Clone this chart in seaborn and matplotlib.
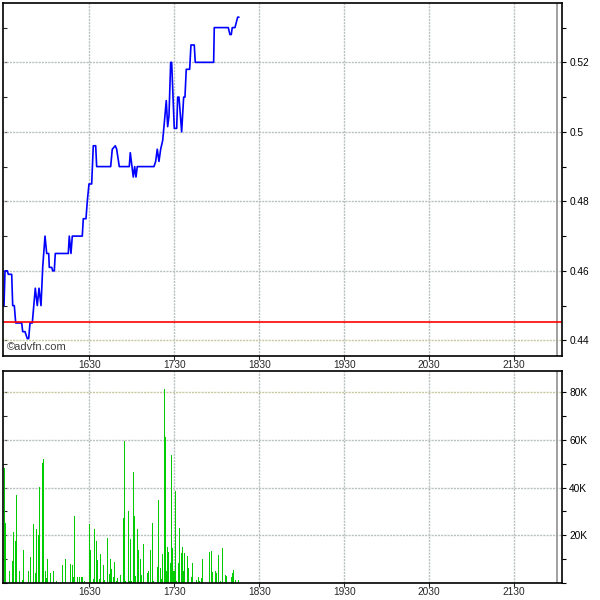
import matplotlib
matplotlib.use("Agg")
import matplotlib.pyplot as plt
import seaborn as sns
import pandas as pd
from matplotlib.ticker import MultipleLocator, FixedLocator, FuncFormatter

# ---- data (minutes after 15:30) ----
price_time = [-0.92, -0.21, 0.50, 2.12, 2.82, 5.22, 5.93, 7.06, 8.05, 12.28, 12.99, 14.61,
              16.24, 17.22, 18.14, 19.76, 21.88, 23.29, 24.49, 25.91, 27.11, 28.73, 29.93,
              31.34, 31.77, 33.46, 34.16, 35.29, 36.00, 45.18, 45.88, 47.08, 48.00, 55.06,
              55.77, 57.67, 58.59, 59.79, 61.69, 62.82, 64.52, 65.22, 75.10, 76.23, 78.35,
              79.34, 81.18, 88.24, 88.94, 91.06, 92.05, 92.97, 93.88, 105.67, 106.87, 108.00,
              109.20, 110.40, 111.81, 112.73, 114.36, 115.34, 116.26, 117.46, 118.17, 120.00,
              121.70, 122.40, 123.32, 125.22, 126.63, 127.55, 128.47, 130.87, 131.79, 134.12,
              134.82, 147.81, 148.24, 158.13, 159.32, 160.24, 160.94, 162.85, 164.76, 165.68]
price_value = [0.450, 0.450, 0.460, 0.460, 0.459, 0.459, 0.450, 0.450, 0.445, 0.445, 0.4425, 0.4425,
               0.4405, 0.4405, 0.445, 0.445, 0.455, 0.450, 0.455, 0.450, 0.461, 0.470, 0.465,
               0.465, 0.461, 0.461, 0.460, 0.460, 0.465, 0.465, 0.470, 0.465, 0.470, 0.470,
               0.475, 0.475, 0.480, 0.485, 0.485, 0.496, 0.496, 0.490, 0.490, 0.495, 0.496,
               0.495, 0.490, 0.490, 0.494, 0.487, 0.490, 0.487, 0.490, 0.490, 0.4915, 0.495,
               0.4915, 0.495, 0.4975, 0.5015, 0.509, 0.5015, 0.5045, 0.520, 0.520, 0.501,
               0.501, 0.510, 0.510, 0.500, 0.510, 0.510, 0.518, 0.518, 0.525, 0.525,
               0.520, 0.520, 0.530, 0.530, 0.528, 0.528, 0.530, 0.530, 0.533, 0.533]
prev_close = 0.4452

vol_time = [-0.21, 0.50, 1.20, 3.32, 5.67, 6.38, 7.79, 8.49, 10.61, 12.73, 13.43, 16.96,
            18.37, 20.49, 21.90, 22.61, 24.02, 24.73, 26.84, 27.55, 28.96, 29.67, 30.37,
            32.49, 34.61, 36.73, 40.96, 43.08, 46.61, 48.02, 48.73, 49.43, 51.55, 52.96,
            54.37, 55.08, 56.96, 60.02, 60.73, 62.85, 63.55, 64.96, 65.67, 67.08, 67.79,
            69.90, 70.61, 72.73, 74.14, 74.84, 75.55, 76.96, 77.67, 79.08, 79.79, 81.90,
            84.02, 84.73, 85.43, 87.55, 88.26, 88.96, 89.67, 91.08, 91.79, 92.49, 93.90,
            94.61, 96.02, 96.73, 98.14, 100.96, 101.67, 103.08, 104.49, 105.20, 108.02,
            108.73, 110.14, 110.85, 111.55, 112.96, 113.67, 114.37, 115.08, 115.79, 117.20,
            117.90, 118.61, 119.32, 120.02, 120.73, 121.43, 122.85, 123.55, 124.97, 125.67,
            126.38, 127.08, 129.20, 129.90, 132.02, 132.73, 135.55, 136.96, 137.67, 139.08,
            139.79, 144.73, 146.14, 146.85, 148.96, 149.67, 151.08, 152.49, 153.90, 156.02,
            156.73, 160.26, 160.96, 161.67, 163.08, 165.20]
vol_value = [48300, 25000, 2100, 5000, 9200, 21400, 17600, 36800, 5000, 1100, 13900, 5000,
             10900, 24800, 4200, 22700, 20000, 40200, 50200, 52100, 5000, 2100, 9900,
             4200, 5000, 800, 7600, 9900, 8000, 7600, 2500, 28100, 2500, 2500,
             2500, 2500, 800, 24800, 13900, 1700, 22700, 17800, 9700, 1700, 12200,
             7600, 1300, 18900, 3800, 10000, 5900, 2500, 8800, 800, 2100, 3400,
             27300, 59600, 800, 30200, 800, 18500, 800, 46600, 28100, 2900, 22700,
             13900, 10000, 3400, 16400, 4200, 5000, 13900, 25000, 800, 6700,
             34800, 6300, 1700, 12200, 81300, 61400, 5000, 15100, 13000, 8400,
             53700, 14700, 5000, 5000, 38600, 800, 8400, 23100, 12600, 15100,
             5000, 12600, 11300, 6300, 2500, 8400, 1300, 2500, 800, 2100,
             10000, 13000, 13400, 4600, 5000, 4200, 11800, 800, 14700, 3400,
             2900, 2500, 4200, 5500, 1300, 1300]

tick_pos = [60, 120, 180, 240, 300, 360]
tick_labels = ["1630", "1730", "1830", "1930", "2030", "2130"]
session_end = 390

price_df = pd.DataFrame({"t": price_time, "p": price_value})
vol_df = pd.DataFrame({"t": vol_time, "v": vol_value})

sns.set_style("white")
plt.rcParams["font.family"] = ["Liberation Sans", "DejaVu Sans"]

fig = plt.figure(figsize=(6, 6), dpi=100)
ax1 = fig.add_axes([0.005, 0.4067, 0.932, 0.589])
ax2 = fig.add_axes([0.005, 0.0283, 0.932, 0.3538])

grid_c = "#b8c0c0"
XLIM = (-0.92, 393.9)

def style(ax, major, minor, fmt):
    ax.set_xlim(*XLIM)
    ax.xaxis.set_major_locator(FixedLocator(tick_pos))
    ax.set_xticklabels(tick_labels)
    ax.yaxis.set_major_locator(MultipleLocator(major))
    ax.yaxis.set_minor_locator(MultipleLocator(minor))
    ax.yaxis.set_major_formatter(FuncFormatter(fmt))
    ax.yaxis.tick_right()
    ax.tick_params(axis="y", which="both", right=True, left=False, labelright=True,
                   labelleft=False, direction="out", length=3, width=0.8,
                   labelsize=7.3, pad=2, colors="black")
    ax.tick_params(axis="x", which="both", bottom=True, top=False, direction="out",
                   length=3, width=0.8, labelsize=7.3, pad=0)
    ax.grid(True, which="major", color=grid_c, linewidth=1.0, linestyle=(0, (1.5, 0.8)))
    ax.set_axisbelow(True)
    ax.set_xlabel("")
    ax.set_ylabel("")
    for s in ax.spines.values():
        s.set_visible(True)
        s.set_color("black")
        s.set_linewidth(1.2)
        s.set_zorder(5)
    ax.axvline(session_end, color="#909090", linewidth=1.2, zorder=1)
    sec = ax.secondary_yaxis("left")
    sec.yaxis.set_major_locator(MultipleLocator(minor))
    sec.tick_params(axis="y", which="both", direction="in", length=3, width=0.8,
                    labelleft=False)
    sec.spines["left"].set_visible(False)

# ---- price panel ----
sns.lineplot(data=price_df, x="t", y="p", ax=ax1, color="#0000ff", linewidth=1.2,
             estimator=None, sort=False)
ax1.axhline(prev_close, color="#ff0000", linewidth=1.2, zorder=3)
ax1.set_ylim(0.4355, 0.5372)
style(ax1, 0.02, 0.01, lambda v, p: f"{v:g}")
ax1.text(0.007, 0.012, "\u00a9advfn.com", transform=ax1.transAxes, fontsize=8,
         color="#404040", ha="left", va="bottom")

# ---- volume panel ----
sns.barplot(data=vol_df, x="t", y="v", ax=ax2, native_scale=True, orient="x",
            color="#00cc00", saturation=1, width=1.0, errorbar=None)
for p in ax2.patches:
    p.set_facecolor("#00cc00")
    p.set_edgecolor("none")
    p.set_linewidth(0)
    p.set_antialiased(False)
    p.set_zorder(2)
ax2.set_ylim(0, 89000)
style(ax2, 20000, 10000, lambda v, p: "" if v == 0 else f"{v/1000:.0f}K")

# tint lowest/top grid lines like the reference
for ax, val in ((ax1, 0.44), (ax2, 80000)):
    for gl, loc in zip(ax.yaxis.get_gridlines(), ax.yaxis.get_majorticklocs()):
        if abs(loc - val) < 1e-9:
            gl.set_color("#c8c8a0")

fig.savefig("out.png", dpi=100, facecolor="white")
